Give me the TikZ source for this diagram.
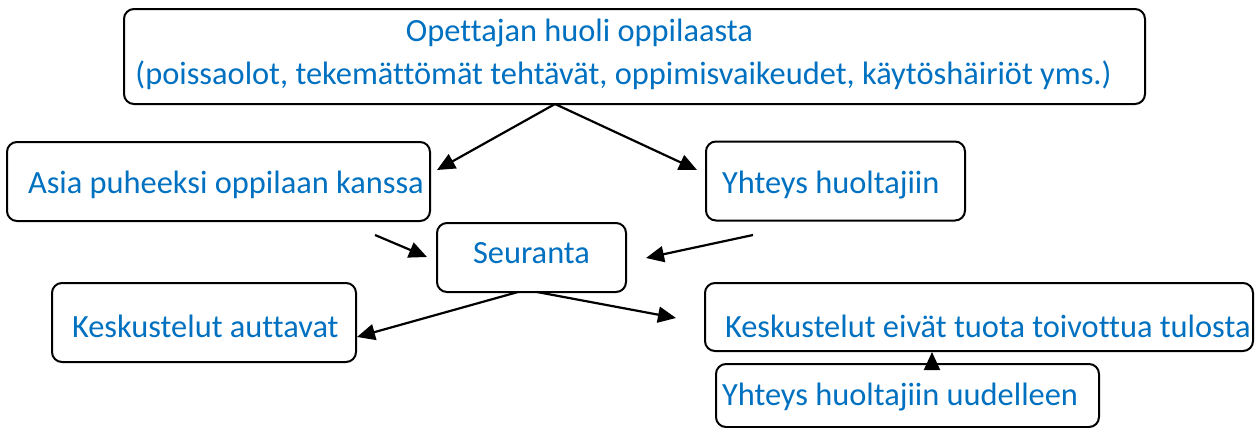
\documentclass[tikz,border=0pt]{standalone}
\usepackage{fontspec}
\setmainfont[Ligatures=NoCommon]{Carlito}
\usetikzlibrary{arrows.meta}
\definecolor{txtblue}{RGB}{0,112,192}
\newcommand\lbox[3][0pt]{\raisebox{#1}[\height][\depth]{\makebox[#2][l]{#3}}}
\tikzset{
  box/.style={draw, line width=1pt, rounded corners=5pt, text=txtblue,
    font=\fontsize{16.2}{19.5}\selectfont, inner ysep=0pt},
  arr/.style={-{Triangle[length=9pt,width=8pt]}, line width=1.1pt}
}
\begin{document}
\begin{tikzpicture}[x=0.5pt,y=-0.5pt]
    \useasboundingbox (0,0) rectangle (1259,428);

    \node[box, align=center, minimum width=510.5pt, minimum height=47.5pt] (huoli) at (634.5,56.5)
      {\raisebox{2pt}[\height][\depth]{Opettajan huoli oppilaasta\hspace*{55pt}}\\(poissaolot, tekemättömät tehtävät, oppimisvaikeudet, käytöshäiriöt yms.)\hspace*{11pt}};
    \node[box, inner xsep=10.5pt, minimum height=39.5pt] (asia) at (218.5,181.5)
      {\lbox[-1.75pt]{190.5pt}{Asia puheeksi oppilaan kanssa}};
    \node[box, inner xsep=8pt, minimum height=39.5pt] (yht) at (835.5,181)
      {\lbox[-2pt]{113.5pt}{Yhteys huoltajiin}};
    \node[box, minimum width=94.5pt, minimum height=34.5pt] (seur) at (531.5,257.5)
      {\raisebox{2.25pt}[\height][\depth]{Seuranta}};
    \node[box, inner xsep=10pt, minimum height=39.5pt] (autt) at (204,322.5)
      {\lbox[-1.75pt]{132pt}{Keskustelut auttavat}};
    \node[box, inner xsep=10pt, minimum height=34pt] (eiv) at (979,317)
      {\lbox[-4.5pt]{254pt}{Keskustelut eivät tuota toivottua tulosta}};
    \node[box, inner xsep=3pt, minimum height=31.5pt] (uud) at (907.5,395.5)
      {\lbox[-0.75pt]{185.5pt}{Yhteys huoltajiin uudelleen}};

    \coordinate (fork) at (555,104);
    \coordinate (asiatip) at (437,170);
    \coordinate (yhttip) at (697,170);
    \coordinate (asiaend) at (375,235);
    \coordinate (yhtend) at (753,235);
    \coordinate (seurL) at (427,257);
    \coordinate (seurR) at (646,258);
    \coordinate (outL) at (518,292);
    \coordinate (outR) at (537,292);
    \coordinate (auttip) at (357,337);
    \coordinate (eivtip) at (676,318);
    \coordinate (up) at (932,0);

    \draw[arr] (fork) -- (asiatip);
    \draw[arr] (fork) -- (yhttip);
    \draw[arr] (asiaend) -- (seurL);
    \draw[arr] (yhtend) -- (seurR);
    \draw[arr] (outL) -- (auttip);
    \draw[arr] (outR) -- (eivtip);
    \draw[arr] (uud.north -| up) -- (eiv.south -| up);
  \end{tikzpicture}
\end{document}
